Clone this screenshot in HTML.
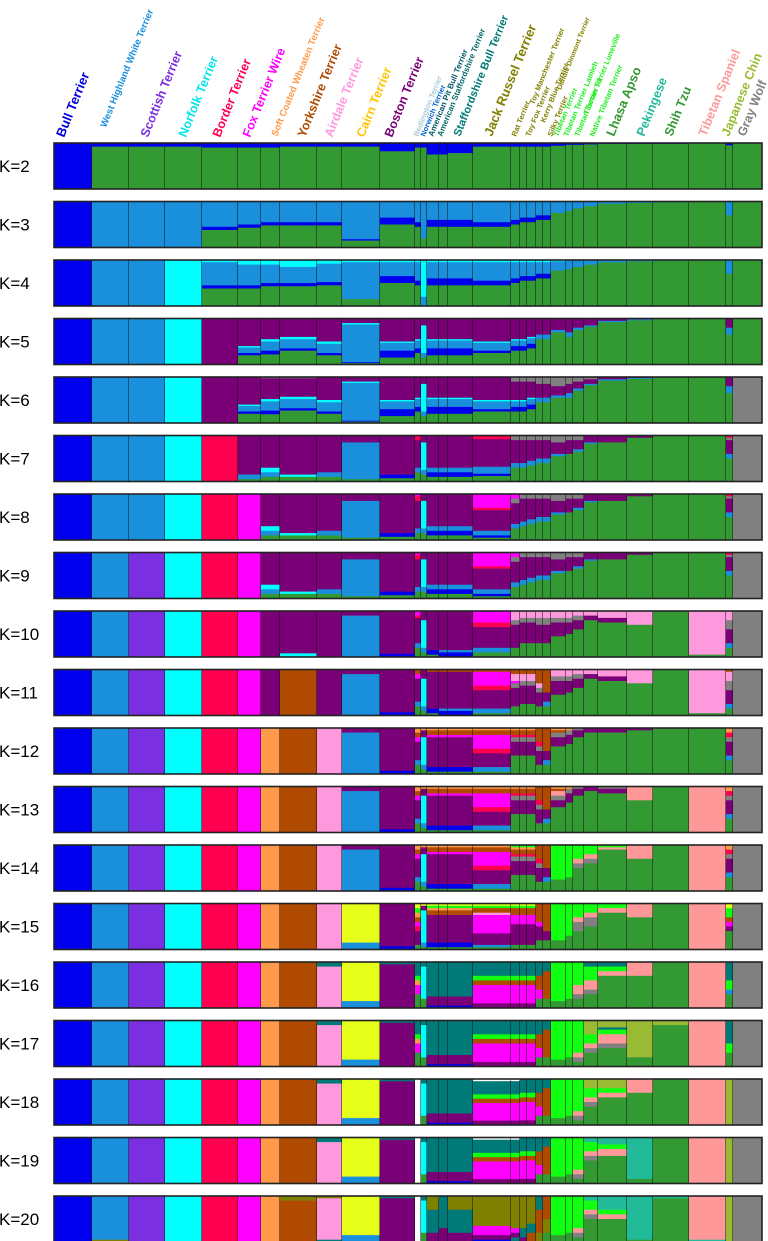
<!DOCTYPE html>
<html><head><meta charset="utf-8"><style>
html,body{margin:0;padding:0;background:#fff;}
svg{display:block;font-family:"Liberation Sans",sans-serif;}
</style></head><body>
<svg id="chart" width="768" height="1241" viewBox="0 0 768 1241" xmlns="http://www.w3.org/2000/svg"></svg>
<script>
const kValues=[2,3,4,5,6,7,8,9,10,11,12,13,14,15,16,17,18,19,20];
const groupNames=["Bull Terrier","West Highland White Terrier","Scottish Terrier","Norfolk Terrier","Border Terrier","Fox Terrier Wire","Soft Coated Wheaten Terrier","Yorkshire Terrier","Airdale Terrier","Cairn Terrier","Boston Terrier","Bedlington Terrier","Norwich Terrier","American Pit Bull Terrier","American Staffordshire Terrier","Staffordshire Bull Terrier","Jack Russel Terrier","Rat Terrier","Toy Fox Terrier","Toy Manchester Terrier","Kerry Blue Terrier","Silky Terrier","Tibetan Terrier","Tibetan Terrier Lamleh","Tibetan Terrier F1","Native Tibetan Terrier","Lhasa Apso","Pekingese","Shih Tzu","Tibetan Spaniel","Japanese Chin","Gray Wolf"];
const groupSizes=[38,37,36,37,36,23,19,37,25,38,35,6,6,12,9,25,38,9,7,9,7,8,15,7,11,14,29,26,36,37,7,29];
const clusterColors={B:"#0000ee",L:"#1a8fdc",P:"#7a2fe0",C:"#00ffff",R:"#ff0050",M:"#ff00ff",O:"#ff9a4a",N:"#b04a00",K:"#ff99dd",Y:"#e5ff1a",D:"#7a0078",T:"#007a78",V:"#7f7f00",G:"#339933",E:"#11ff11",S:"#ff9999",H:"#99bb33",W:"#808080",Q:"#22bb99",X:"#ffffff"};
const compositions=[
"B B8G92 B8G92 B8G92 B10G90 B10G90 B10G90 B8G92 B8G92 B8G92 B18G82 B10G90 B10G90 B25G75 B25G75 B22G78 B8G92 B8G92 B8G92 B8G92 B8G92 B8G92 B6G94 B4G96 B4G96 B3G97 B2G98 B2G98 B2G98 G B5G95 G",
"B L L L L55B7G38 L50B7G43 L45B7G48 L45B7G48 L45B7G48 L82B3G15 L35B15G50 L45B10G45 L80G20 L40B15G45 L40B15G45 L40B15G45 L45B10G45 L40B10G50 L35B10G55 L35B10G55 L30B10G60 L30B10G60 L25G75 L20G80 L15G85 L10G90 L5G95 L3G97 L2G98 G L30G70 G",
"B L L C C5L50B7G38 C10L45B7G38 C10L40B7G43 C15L35B7G43 C8L40B7G45 C5L80G15 C5L30B15G50 C5L40B10G45 C80L20 C5L35B15G45 C5L35B15G45 C5L35B15G45 C5L40B10G45 C5L35B10G50 C5L30B10G55 C5L30B10G55 C5L25B10G60 C5L25B10G60 C3L20G77 L20G80 L15G85 L10G90 L5G95 L3G97 L2G98 G L30G70 G",
"B L L C D D60C3L12B5G20 D45C5L20B8G22 D40C5L20B5G30 D50C5L20B5G20 D10C3L82B2G3 D50C3L17B15G15 D45C3L17B10G25 D15C60L10G15 D45C3L17B15G20 D45C3L17B15G20 D45C3L17B15G20 D50C3L17B5G25 D45C3L12B10G30 D45C3L12B10G30 D40C3L12B10G35 D35L10G55 D35L10G55 D25L5G70 D30L10G60 D20L5G75 D15L3G82 D5L3G92 D2L2G96 G G D20L15G65 G",
"B L L C D D60C3L12B5G20 W3D45C5L20B8G19 W3D40C5L20B5G27 D50C5L20B5G20 D10C3L82B2G3 D50C3L17B15G15 D45C3L17B10G25 D15C60L10G15 D45C3L17B15G20 D45C3L17B15G20 D45C3L17B15G20 D50C3L17B5G25 W10D40C3L12B10G25 W10D40C3L12B10G25 W10D35C3L12B10G30 W15D30L10G45 W15D30L10G45 W20D20L5G55 W15D20L10G55 W10D15L5G70 W5D10L3G82 D5L3G92 D2L2G96 G G D20L15G65 W",
"B L L C R D85L10G5 D70C10L10G10 D85C5G10 D80L10G10 D15L80G5 D85B8G7 R10D60L10G20 D15C60L10G15 D70L10B10G10 D70L10B10G10 D70L10B10G10 R8D60L15B5G12 W10D50L10G30 W10D50L10G30 W10D45L10G35 W10D40L10G40 W10D40L10G40 W15D25L5G55 W10D30G60 W10D20L5G65 D15L3G82 D15G85 D5G95 G G R5W5D30L10G50 W",
"B L L C R M D70C10L10G10 D85C5G10 D80L10G10 D15L80G5 D85B8G7 M5R10D60L10G15 D15C60L10G15 D70L10B10G10 D70L10B10G10 D70L10B10G10 M30R5D45L10B5G5 M10W10D45L10G25 W10D50L10G30 W10D45L10G35 W10D40L10G40 W10D40L10G40 W15D25L5G55 W10D30G60 W10D20L5G65 D15L3G82 D15G85 D5G95 G G R5W5D30L10G50 W",
"B L P C R M D70C10L10G10 D85C5G10 D80L10G10 D15L80G5 D85B8G7 M5R10D60L10G15 D15C60L10G15 D70L10B10G10 D70L10B10G10 D70L10B10G10 M30R5D45L10B5G5 M10W10D45L10G25 W10D50L10G30 W10D45L10G35 W10D40L10G40 W10D40L10G40 W15D25L5G55 W10D30G60 W10D20L5G65 D15L3G82 D15G85 D5G95 G G R5W5D30L10G50 W",
"B L P C R M D D92C8 D D10L90 D93B7 M10R5D55L10G20 D20C60L10G10 D85B10G5 D85L5B10 D85L5B10 M25R10D45L10G10 K20W10D50G20 K15W10D45G30 K15W10D45G30 K15W15D40G30 K15W15D40G30 K15W10D30G45 K15W10D25G50 K10W10D20G60 K10D10G80 K15D10G75 K30G70 G K95G5 K20W20D30L10G20 W",
"B L P C R M D N D D10L90 D93B7 N10M10D50L10G20 D20C60L10G10 N5D80B10G5 N5D80L5B10 N5D80L5B10 N5M30R10D40L10G5 N10K15M5W10D40G20 N10K15W10D40G25 N10K15W10D40G25 N30K10W10D30G20 N50D20L10G20 K15W10D30G45 K15W10D25G50 K10W10D20G60 K10D10G80 K15D10G75 K30G70 G K95G5 N5K20W20D30L10G15 W",
"B L P C R M O N K D10L90 D93B7 O10N10M10D40L10G20 O5D15C60L10G10 O5N10M5D65B10G5 O5N10M5D65B10G5 O5N10M5D65B10G5 O5N10M30R10D30L10G5 O5N10R5W10D30G40 O5N10R5W10D30G40 O5N10R5W10D30G40 N30R10W10D30G20 N50D20L10G20 O5N5W10D20G60 O5W10D20G65 W5D15G80 D10G90 D10G90 D5G95 G G O10R10W10D30L10G30 W",
"B L P C R M O N K D10L90 D93B7 O10N10M10D40L10G20 O5D15C60L10G10 O5N10M5D65B10G5 O5N10M5D65B10G5 O5N10M5D65B10G5 O5N10M30R10D30L10G5 O5N10R5W10D30G40 O5N10R5W10D30G40 O5N10R5W10D30G40 N30R10W10D30G20 N50D20L10G20 O5N5S10W10D15G55 O5W10D20G65 W5D15G80 D10G90 W5D10G85 S30G70 G S O10R10W10D30L10G30 W",
"B L P C R M O N K D10L90 D93B7 O10N10M10D40L10G20 O5D15C60L10G10 O5N10M5D65B10G5 O5N10M5D65B10G5 O5N10M5D65B10G5 O5N10M30R10D30L10G5 E5O5N10R5W10D30G35 E5O5N10R5W10D30G35 E5O5N10R5W10D30G35 N30R10W10D30G20 N50D20L10G20 E75G25 E70G30 E30S10W10G50 E20S10W10G60 E5S5G90 S30G70 G S O10R10W10D30L10G30 W",
"B L P C R M O N K Y85L15 D93B7 Y10E10O10N10M10R10D30G10 Y5D10C70L10G5 Y5E5O5N10D60B10G5 Y5E5O5N10D60B10G5 Y5E5O5N10D60B10G5 Y5E5N10K5M40D25L5G5 Y5E5N15M20D45G10 Y5E5N15M20D45G10 Y5E5N15M20D45G10 N40M10D30G20 N60D20G20 E80G20 E70G30 E30S10W20G40 E20S10W20G50 E10S10G80 S30G70 G S Y10E20N10M10D10G40 W",
"B L P C R M O N T10K90 Y85L15 T5D95 T30E10O10M20G30 T10C70G20 T75D20B5 T75D20B5 T75D20B5 T30E10N10M40D10 T30E10N10M40D10 T30E10N10M40D10 T30E10N10M40D10 T30N30M20G20 T20N60G20 E85G15 E80G20 E50S20W10G20 T10E30S20W10G30 T10E10S10G70 S30G70 G S T40E20L10G30 W",
"B L P C R M O N T10K90 Y85L15 T5D95 T30E10O10M20G30 T10C70G20 T75D20B5 T75D20B5 T75D20B5 T30E10N10M40D10 T30E10N10M40D10 T30E10N10M40D10 T30E10N10M40D10 T30N30M20G20 T20N60G20 E85G15 E80G20 E70S10W10G10 H30E20S10W10G30 H15T5E10S20W10G40 H80G20 H10G90 S T50E20G30 W",
"B L P C R M O N T10K90 Y85L15 T5D95 X T10C70G20 T75D20B5 T75D20B5 T75D20B5 X5T30E10N10M40D10 X5T30E10N10M40D10 T30E10N10M40D10 T30E10N10M40D10 T30N30M20G20 T20N60G20 E85G15 E80G20 E70S10W10G10 H20E20S10W10G40 H20E10S10G60 S30G70 G S H W",
"B L P C R M O N T10K90 Y85L15 T5D95 X T10C70G20 T75D20B5 T75D20B5 T75D20B5 X5T30E10N10M40D10 X5T30E10N10M40D10 T30E10N10M40D10 T30E10N10M40D10 T30N30M20G20 T20N60G20 E85G15 E80G20 E70S10W10G10 Q10E20S10W10G50 Q15E10S15G60 Q90G10 G S H W",
"B L95V5 P C R M O V10N90 V5K90T5 Y85L15 T5D95 X T10C70G20 V30T50D20 T70D30 V30T50D20 V65M20D10B5 V70M10D10T10 V70T20D10 V60T20N20 T30N50V20 N50V30G20 E85G15 E80G20 E70S10W10G10 Q10E20S10W10G50 Q30E10S10G50 Q95G5 Q5G95 S95Q5 H W"
];
const labelSpecs=[
["Bull Terrier",64,138,13,"#0000dd"],["West Highland White Terrier",106,128,9.5,"#1a8fdc"],["Scottish Terrier",148,138,12.5,"#7a2fe0"],["Norfolk Terrier",186,138,12.5,"#00e5ee"],["Border Terrier",220,138,12.5,"#ff0050"],["Fox Terrier Wire",250,138,12.5,"#ff00ff"],["Soft Coated Wheaten Terrier",277,137,9.5,"#ff9a4a"],["Yorkshire Terrier",305,138,12.5,"#b04a00"],["Airdale Terrier",332,138,12.5,"#ff99dd"],["Cairn Terrier",364,138,12.5,"#ffc400"],["Boston Terrier",392,138,12.5,"#7a0078"],
["Bedlington Terrier",418,137,7.5,"#aaccdd"],["Norwich Terrier",425,137,7.5,"#0066cc"],["American Pit Bull Terrier",433,137,8,"#005566"],["American Staffordshire Terrier",442,137,8,"#006666"],["Staffordshire Bull Terrier",460,137,11,"#007a78"],["Jack Russel Terrier",492,137,13,"#808000"],
["Rat Terrier",516,137,7.5,"#808000"],["Toy Fox Terrier",530,137,7.5,"#808000"],["Toy Manchester Terrier",534,105,7.5,"#808000"],["Kerry Blue Terrier",545,123,7.5,"#808000"],["Silky Terrier",552,137,7.5,"#808000"],["Dandie Dinmont Terrier",561,90,7,"#808000"],
["Tibetan Terrier",558,137,7.5,"#22ee22"],["Tibetan Terrier Lamleh",568,137,7.5,"#22ee22"],["Tibetan Terrier F1",579,137,7.5,"#22ee22"],["Tibetan Terrier Luneville",588,115,7.5,"#22ee22"],["Native Tibetan Terrier",594,137,7.5,"#22ee22"],
["Lhasa Apso",614,137,13,"#339933"],["Pekingese",644,137,12.5,"#22bb99"],["Shih Tzu",672,137,12.5,"#339933"],["Tibetan Spaniel",706,137,12.5,"#ff9999"],["Japanese Chin",729,137,12.5,"#99bb33"],["Gray Wolf",745,137,12.5,"#808080"]
];
const NS="http://www.w3.org/2000/svg";
const svg=document.getElementById("chart");
const X0=54, TOP0=143, PITCH=58.5, PH=46;
function mk(t,a){const e=document.createElementNS(NS,t);for(const k in a)e.setAttribute(k,a[k]);return e;}
function parseComp(s){
 const p=[];const re=/([A-Z])(\d*)/g;let m;
 while((m=re.exec(s))){p.push([m[1],m[2]===""?100:parseFloat(m[2])]);}
 const tot=p.reduce((a,b)=>a+b[1],0);return p.map(q=>[q[0],q[1]/tot]);}
labelSpecs.forEach(l=>{
 const t=mk("text",{x:0,y:0,transform:`translate(${l[1]},${l[2]}) rotate(-68)`,"font-size":l[3],"font-weight":"bold",fill:l[4]});
 t.textContent=l[0];
 
 
 svg.appendChild(t);
});
kValues.forEach((k,ki)=>{
 const y0=TOP0+ki*PITCH;
 const g=mk("g",{});
 
 
 svg.appendChild(g);
 const lab=mk("text",{x:-1,y:y0+PH/2+6,"font-size":17,fill:"#000"});
 lab.textContent="K="+k;
 
 
 g.appendChild(lab);
 const toks=compositions[ki].split(/\s+/);
 let x=X0;
 toks.forEach((tok,gi)=>{
  const w=groupSizes[gi];
  let yy=y0;
  parseComp(tok).forEach(([c,f])=>{
   const h=f*PH;
   const r=mk("rect",{x:x,y:yy,width:w+0.3,height:h+0.3,fill:clusterColors[c]});
   
   
   g.appendChild(r);yy+=h;
  });
  x+=w;
  if(gi<toks.length-1){
   const ln=mk("line",{x1:x,x2:x,y1:y0,y2:y0+PH,stroke:"#111","stroke-width":1});
   
   
   g.appendChild(ln);
  }
 });
 const b=mk("rect",{x:X0,y:y0,width:x-X0,height:PH,fill:"none",stroke:"#222","stroke-width":1.6});
 
 
 g.appendChild(b);
});
</script>
</body></html>
